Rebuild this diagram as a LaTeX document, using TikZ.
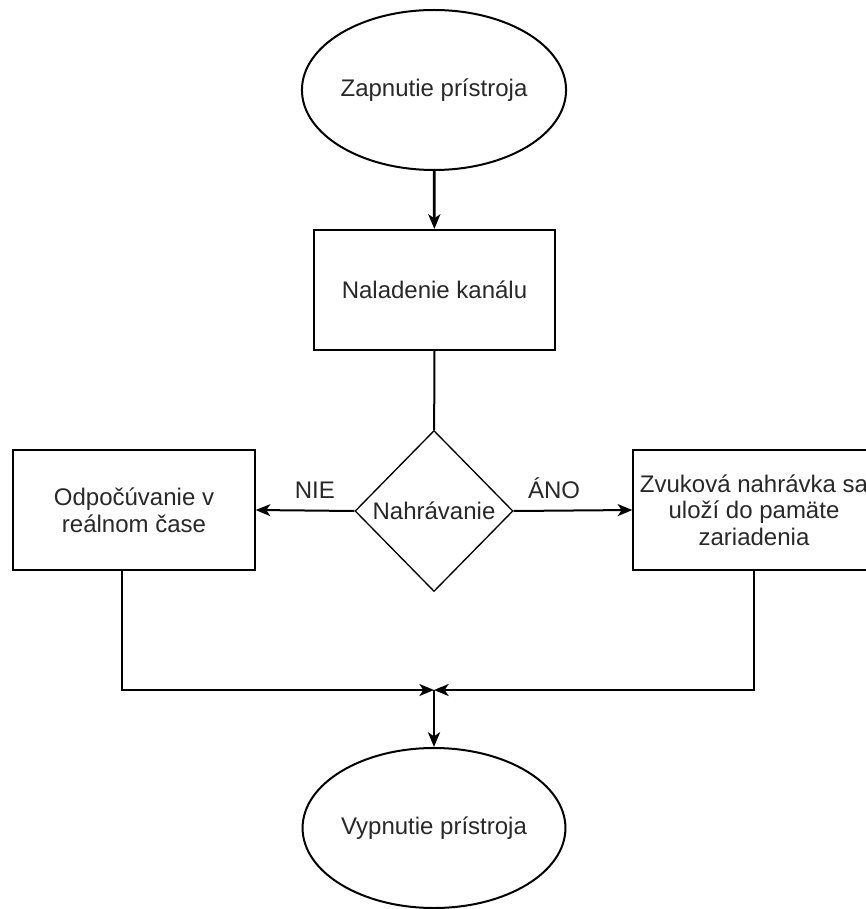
\documentclass[tikz,border=0pt]{standalone}
\usepackage{fontspec}
\setmainfont{Liberation Sans}
\usetikzlibrary{shapes.geometric,arrows.meta}
\definecolor{flowtext}{RGB}{40,40,40}

\begin{document}
\begin{tikzpicture}[x=0.75pt,y=-0.75pt,
  every node/.style={text=flowtext,font=\fontsize{18pt}{20pt}\selectfont,align=center},
  terminal/.style={draw,line width=1.5pt,ellipse,minimum width=182pt,minimum height=120pt,inner sep=0pt},
  process/.style={draw,line width=1.5pt,rectangle,minimum width=181pt,minimum height=90pt,inner sep=0pt},
  decision/.style={draw,line width=1pt,diamond,minimum width=118.5pt,minimum height=120.75pt,inner sep=0pt},
  flow/.style={line width=1.5pt,-{Stealth[length=11pt,width=9pt,inset=3pt]}},
  bigflow/.style={flow,line width=2pt}]
  \useasboundingbox[fill=white] (0,0) rectangle (865,909);
  \node[terminal] (on) at (434,90) {Zapnutie prístroja};
  \node[process] (tune) at (434.5,290) {Naladenie kanálu};
  \node[decision,label={center:Nahrávanie}] (rec) at (434,511) {};
  \node[process] (listen) at (134,510) {Odpočúvanie v\\reálnom čase};
  \node[process] (save) at (754,510) {Zvuková nahrávka sa\\uloží do pamäte\\zariadenia};
  \node[terminal] (off) at (434,828) {Vypnutie prístroja};
  \coordinate (join) at (434,690);
  \draw[bigflow] (on) -- (tune);
  \draw[line width=1.5pt] (tune) -- (rec);
  \draw[flow] (rec.west) -- node[pos=0.4,above=5pt] {NIE} (listen.east);
  \draw[flow] (rec.east) -- node[pos=0.34,above=5pt] {ÁNO} (save.west);
  \draw[flow] ([xshift=-9pt]listen.south) |- (join);
  \draw[flow] (save.south) |- (join);
  \draw[bigflow] (join) -- (off.north);
\end{tikzpicture}
\end{document}
